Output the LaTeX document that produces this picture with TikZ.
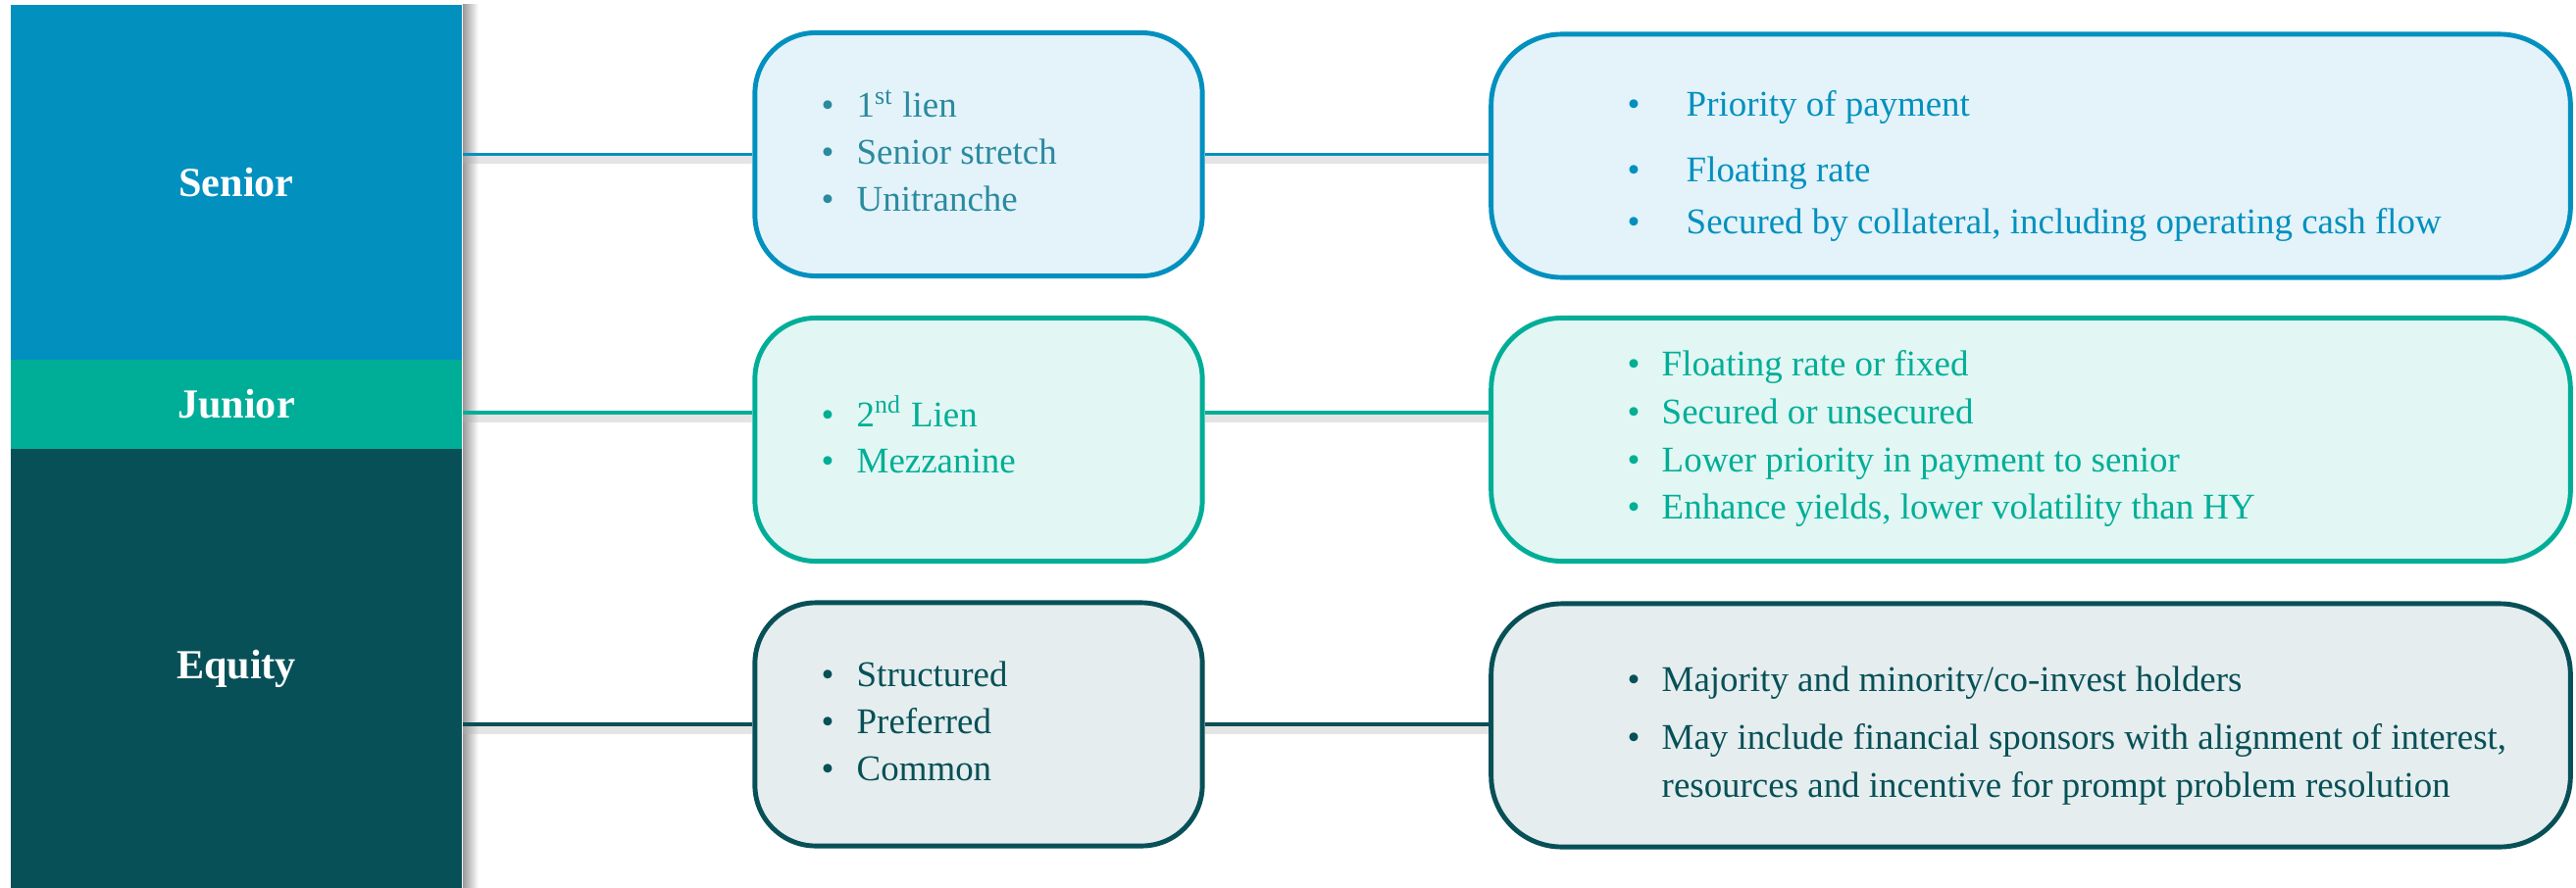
\documentclass[tikz,border=0pt]{standalone}
\usepackage{fontspec}
\setmainfont{Liberation Serif}

\definecolor{seniorblue}{HTML}{0290BF}
\definecolor{juniorteal}{HTML}{00AE97}
\definecolor{equitydark}{HTML}{075057}
\definecolor{seniorpale}{HTML}{E3F3F9}
\definecolor{juniorpale}{HTML}{E2F6F3}
\definecolor{equitypale}{HTML}{E5EDEE}
\definecolor{seniortext}{HTML}{2B8A9F}

% bullet with a fixed gap before the text
\newcommand\itm[2][0.36cm]{\makebox[#1][l]{\textbullet}#2}

\tikzset{
  tier/.style={inner sep=0pt, minimum width=4.6cm, text=white,
    font=\fontsize{12}{14}\selectfont\bfseries},
  midbox/.style={line width=1.4pt, rounded corners=0.62cm,
    minimum width=4.56cm, minimum height=2.48cm},
  sidebox/.style={line width=1.4pt, rounded corners=0.72cm,
    minimum width=11cm, minimum height=2.48cm},
  pt/.style={anchor=base west, inner sep=0pt,
    font=\fontsize{10.5}{12.6}\selectfont},
  link/.style={line width=1.1pt},
  linkshade/.style={line width=2.5pt, black!30, opacity=.35,
    transform canvas={yshift=-1.5pt}}
}

\begin{document}
\begin{tikzpicture}[x=0.01cm, y=-0.01cm]
  \useasboundingbox (0,0) rectangle (2627,906);

  % capital stack on the left
  \node[tier, fill=seniorblue, minimum height=3.62cm] (sen) at (241,186) {Senior};
  \node[tier, fill=juniorteal, minimum height=0.91cm] (jun) at (241,412.5) {Junior};
  \node[tier, fill=equitydark, minimum height=4.48cm] (eq) at (241,682) {Equity};
  \shade[left color=black!40, right color=white]
    (sen.north east) rectangle ([xshift=0.16cm]eq.south east);

  % instrument boxes
  \node[midbox, draw=seniorblue, fill=seniorpale] (ms) at (998,157.5) {};
  \node[midbox, draw=juniorteal, fill=juniorpale] (mj) at (998,448.5) {};
  \node[midbox, draw=equitydark, fill=equitypale] (me) at (998,739) {};

  % feature boxes
  \node[sidebox, draw=seniorblue, fill=seniorpale] (rs) at (2071,159) {};
  \node[sidebox, draw=juniorteal, fill=juniorpale] (rj) at (2071,448.5) {};
  \node[sidebox, draw=equitydark, fill=equitypale] (re) at (2071,740) {};

  % connectors
  \coordinate (ys) at (0,157.5);
  \coordinate (yj) at (0,421);
  \coordinate (ye) at (0,739);
  \foreach \l/\m/\r/\y/\c in {sen/ms/rs/ys/seniorblue, jun/mj/rj/yj/juniorteal,
                              eq/me/re/ye/equitydark} {
    \draw[linkshade] (\l.east |- \y) -- (\m.west |- \y) (\m.east |- \y) -- (\r.west |- \y);
    \draw[link, \c] (\l.east |- \y) -- (\m.west |- \y) (\m.east |- \y) -- (\r.west |- \y);
  }

  % instrument lists
  \foreach \txt [count=\i] in {1\textsuperscript{st} lien, Senior stretch, Unitranche}
    \node[pt, text=seniortext] (ms\i) at (837,{120+47.5*(\i-1)}) {\itm{\txt}};
  \foreach \txt [count=\i] in {2\textsuperscript{nd} Lien, Mezzanine}
    \node[pt, text=juniorteal] (mj\i) at (837,{435+47*(\i-1)}) {\itm{\txt}};
  \foreach \txt [count=\i] in {Structured, Preferred, Common}
    \node[pt, text=equitydark] (me\i) at (837,{700+48*(\i-1)}) {\itm{\txt}};

  % feature lists
  \foreach \y/\txt [count=\i] in {118/Priority of payment, 185/Floating rate,
      238/{Secured by collateral, including operating cash flow}}
    \node[pt, text=seniorblue] (rs\i) at (1659,\y) {\itm[0.6cm]{\txt}};
  \foreach \y/\txt [count=\i] in {383/Floating rate or fixed, 432/Secured or unsecured,
      481/Lower priority in payment to senior,
      529/{Enhance yields, lower volatility than HY}}
    \node[pt, text=juniorteal] (rj\i) at (1659,\y) {\itm[0.35cm]{\txt}};
  \foreach \y/\txt [count=\i] in {705/{Majority and minority/co-invest holders},
      764/{May include financial sponsors with alignment of interest,}}
    \node[pt, text=equitydark] (re\i) at (1659,\y) {\itm[0.35cm]{\txt}};
  \node[pt, text=equitydark] (re3) at (1694,813)
    {resources and incentive for prompt problem resolution};
\end{tikzpicture}
\end{document}
